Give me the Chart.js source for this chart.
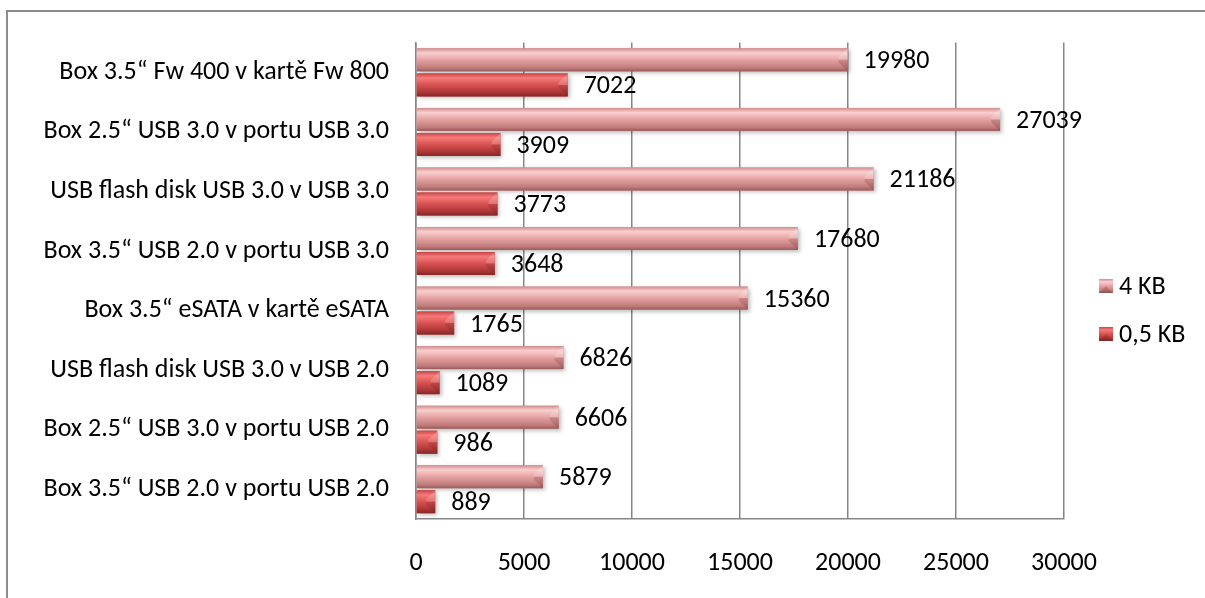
<!DOCTYPE html>
<html>
<head>
<meta charset="utf-8">
<script src="https://cdn.jsdelivr.net/npm/chart.js@4/dist/chart.umd.min.js"></script>
<style>
  html, body { margin: 0; padding: 0; background: #fff; overflow: hidden; width: 1205px; height: 598px; }
  #frame {
    position: absolute; left: 6px; top: 10px; width: 1400px; height: 800px;
    border-top: 2px solid #8c8c8c; border-left: 2px solid #8c8c8c;
  }
  #wrap { position: absolute; left: 0; top: 0; width: 1205px; height: 598px; }
</style>
</head>
<body>
<div id="frame"></div>
<div id="wrap"><canvas id="chart" width="1205" height="598"></canvas></div>
<script>
// categories top to bottom
const categories = [
    "Box 3.5“ Fw 400 v kartě Fw 800",
    "Box 2.5“ USB 3.0 v portu USB 3.0",
    "USB flash disk USB 3.0 v USB 3.0",
    "Box 3.5“ USB 2.0 v portu USB 3.0",
    "Box 3.5“ eSATA v kartě eSATA",
    "USB flash disk USB 3.0 v USB 2.0",
    "Box 2.5“ USB 3.0 v portu USB 2.0",
    "Box 3.5“ USB 2.0 v portu USB 2.0"
];
const values4KB = [19980, 27039, 21186, 17680, 15360, 6826, 6606, 5879];
const values05KB = [7022, 3909, 3773, 3648, 1765, 1089, 986, 889];
const xTicks = [0, 5000, 10000, 15000, 20000, 25000, 30000];

const FONT = "Carlito, Calibri, Lato, sans-serif";
const FSIZE = 26;

// gradient stops for the glossy bars
const shades = [
    ["#d08c8c", "#f9cfcf", "#e6a2a2", "#c07a7a", "#9a5a5a"],
    ["#c84444", "#f77a7a", "#d95252", "#a83434", "#862626"]
];

function barGradient(ctx, top, bottom, s) {
    const g = ctx.createLinearGradient(0, top, 0, bottom);
    g.addColorStop(0, s[0]);
    g.addColorStop(0.2, s[1]);
    g.addColorStop(0.5, s[2]);
    g.addColorStop(0.85, s[3]);
    g.addColorStop(1, s[4]);
    return g;
}

// glossy fill + value labels
const barLook = {
    id: "barLook",
    afterDatasetsDraw(chart) {
        const ctx = chart.ctx;
        chart.data.datasets.forEach(function (ds, di) {
            const meta = chart.getDatasetMeta(di);
            meta.data.forEach(function (bar, i) {
                const top = bar.y - bar.height / 2;
                const bottom = bar.y + bar.height / 2;
                const left = bar.base;
                const right = bar.x;
                ctx.save();
                ctx.shadowColor = "rgba(0,0,0,0.25)";
                ctx.shadowBlur = 4;
                ctx.shadowOffsetX = 2;
                ctx.shadowOffsetY = 2;
                ctx.fillStyle = barGradient(ctx, top, bottom, shades[di]);
                ctx.fillRect(left, top, right - left, bottom - top);
                ctx.restore();
                // bevelled end: lighter upper facet, darker lower facet
                const cap = Math.min(9, (right - left) / 2);
                ctx.save();
                ctx.fillStyle = "rgba(255,255,255,0.18)";
                ctx.beginPath();
                ctx.moveTo(right, top);
                ctx.lineTo(right - cap, top + cap);
                ctx.lineTo(right - cap, bar.y);
                ctx.lineTo(right, bar.y);
                ctx.closePath();
                ctx.fill();
                ctx.fillStyle = "rgba(90,20,20,0.18)";
                ctx.beginPath();
                ctx.moveTo(right, bottom);
                ctx.lineTo(right - cap, bottom - cap);
                ctx.lineTo(right - cap, bar.y);
                ctx.lineTo(right, bar.y);
                ctx.closePath();
                ctx.fill();
                ctx.restore();

                ctx.save();
                ctx.font = FSIZE + "px " + FONT;
                ctx.fillStyle = "#000";
                ctx.textAlign = "left";
                ctx.textBaseline = "middle";
                ctx.fillText(String(ds.data[i]), right + 16, bar.y + 2);
                ctx.restore();
            });
        });
    }
};

// legend on the right, 4 KB above 0,5 KB
const sideLegend = {
    id: "sideLegend",
    afterDraw(chart) {
        const ctx = chart.ctx;
        const x = 1099;
        const ys = [286, 334];
        chart.data.datasets.forEach(function (ds, di) {
            const y = ys[di];
            ctx.save();
            ctx.fillStyle = barGradient(ctx, y - 7, y + 7, shades[di]);
            ctx.fillRect(x, y - 7, 14, 14);
            ctx.fillStyle = "rgba(90,20,20,0.2)";
            ctx.beginPath();
            ctx.moveTo(x, y + 7);
            ctx.lineTo(x + 7, y);
            ctx.lineTo(x + 14, y + 7);
            ctx.closePath();
            ctx.fill();
            ctx.font = FSIZE + "px " + FONT;
            ctx.fillStyle = "#000";
            ctx.textBaseline = "middle";
            ctx.fillText(ds.label, x + 20, y + 1);
            ctx.restore();
        });
    }
};

new Chart(document.getElementById("chart"), {
    type: "bar",
    data: {
        labels: categories,
        datasets: [
            { label: "4 KB", data: values4KB, backgroundColor: "#e6a2a2" },
            { label: "0,5 KB", data: values05KB, backgroundColor: "#d95252" }
        ]
    },
    options: {
        indexAxis: "y",
        responsive: false,
        animation: false,
        categoryPercentage: 0.84,
        barPercentage: 0.92,
        layout: { padding: { top: 41, left: 0, right: 141, bottom: 0 } },
        plugins: {
            legend: { display: false },
            tooltip: { enabled: false }
        },
        scales: {
            x: {
                min: 0,
                max: 30000,
                afterBuildTicks(scale) {
                    scale.ticks = xTicks.map(v => ({ value: v }));
                },
                afterFit(scale) { scale.height = 79; },
                grid: { color: "#868686", lineWidth: 1.5, drawTicks: false },
                border: { display: true, color: "#868686", width: 1.5 },
                ticks: {
                    padding: 29,
                    color: "#000",
                    callback: v => String(v),
                    font: { family: FONT, size: FSIZE }
                }
            },
            y: {
                afterFit(scale) { scale.width = 416; },
                grid: { display: false, drawTicks: false },
                border: { display: true, color: "#868686", width: 1.5 },
                ticks: {
                    padding: 27,
                    color: "#000",
                    autoSkip: false,
                    font: { family: FONT, size: FSIZE }
                }
            }
        }
    },
    plugins: [barLook, sideLegend]
});
</script>
</body>
</html>
